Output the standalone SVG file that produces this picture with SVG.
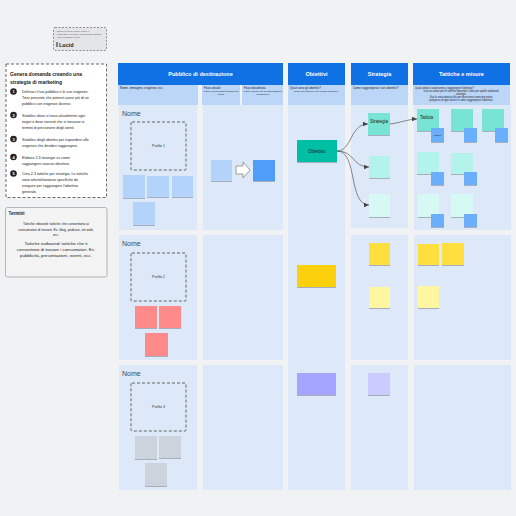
<svg xmlns="http://www.w3.org/2000/svg" width="516" height="516" viewBox="0 0 516 516">
<style>
.hdr{fill:#1071e5}
.hdrt{font-family:"Liberation Sans",Arial,sans-serif;font-size:5.5px;font-weight:bold;fill:#ffffff;text-anchor:middle}
.sub{fill:#bcd6f7}
.subt{font-family:"Liberation Sans",Arial,sans-serif;font-size:3px;fill:#222}
.cell{fill:#dde9f8}
.nome{font-family:"Liberation Sans",Arial,sans-serif;font-size:7px;fill:#4a4a4a}
.prof{fill:none;stroke:#555;stroke-width:0.9;stroke-dasharray:3 2}
.proft{font-family:"Liberation Sans",Arial,sans-serif;font-size:3.5px;fill:#333;text-anchor:middle}
.st{filter:url(#sh)}
.stt{font-family:"Liberation Sans",Arial,sans-serif;font-size:4.5px;fill:#222}
.pt{font-family:"Liberation Sans",Arial,sans-serif;font-size:3.6px;fill:#222}
.ptb{font-family:"Liberation Sans",Arial,sans-serif;font-size:5px;font-weight:bold;fill:#222}
.num{fill:#222}
.numt{font-family:"Liberation Sans",Arial,sans-serif;font-size:4px;font-weight:bold;fill:#fff;text-anchor:middle}
.con{fill:none;stroke:#5a5a5a;stroke-width:0.7;marker-end:url(#ah)}
</style>
<defs>
<filter id="sh" x="-20%" y="-20%" width="140%" height="150%">
<feDropShadow dx="0" dy="1" stdDeviation="0.6" flood-color="#000" flood-opacity="0.25"/>
</filter>
<marker id="ah" markerWidth="6" markerHeight="6" refX="5" refY="3" orient="auto" markerUnits="userSpaceOnUse">
<path d="M0,0.8 L5,3 L0,5.2 Z" fill="#444"/>
</marker>
</defs>
<rect x="0" y="0" width="516" height="516" fill="#f1f2f4"/>

<g id="logo">
<rect x="53.5" y="27.5" width="53" height="23" rx="1.5" fill="#e4e5e8" stroke="#666" stroke-width="0.7" stroke-dasharray="2 1.5"/>
<text class="subt" x="57" y="32" style="font-size:2.4px;fill:#555">Scopri di più su come creare e</text>
<text class="subt" x="57" y="35" style="font-size:2.4px;fill:#555">condividere un piano di marketing efficace</text>
<text class="subt" x="57" y="38" style="font-size:2.4px;fill:#555">con Lucidchart. Inizia</text>
<rect x="56.5" y="42" width="1" height="5" fill="#222"/>
<text x="59" y="47" style="font-family:'Liberation Sans',Arial,sans-serif;font-size:5.5px;font-weight:bold;fill:#222">Lucid</text>
</g>

<g id="istruzioni">
<rect x="6" y="64" width="100.5" height="133.5" fill="#ffffff" stroke="#444" stroke-width="0.8" stroke-dasharray="3 2"/>
<text class="ptb" x="10" y="76">Genera domanda creando una</text>
<text class="ptb" x="10" y="84">strategia di marketing</text>
<circle class="num" cx="13.5" cy="91.5" r="3.3"/><text class="numt" x="13.5" y="93">1</text>
<text class="pt" x="22" y="93">Definisci il tuo pubblico e le sue esigenze.</text>
<text class="pt" x="22" y="99">Tieni presente che potresti avere più di un</text>
<text class="pt" x="22" y="105">pubblico con esigenze diverse.</text>
<circle class="num" cx="13.5" cy="115" r="3.3"/><text class="numt" x="13.5" y="116.5">2</text>
<text class="pt" x="22" y="116.5">Stabilisci dove si trova attualmente ogni</text>
<text class="pt" x="22" y="122.5">target e dove vorresti che si trovasse in</text>
<text class="pt" x="22" y="128.5">termini di percezione degli utenti.</text>
<circle class="num" cx="13.5" cy="139" r="3.3"/><text class="numt" x="13.5" y="140.5">3</text>
<text class="pt" x="22" y="140.5">Stabilisci degli obiettivi per rispondere alle</text>
<text class="pt" x="22" y="146.5">esigenze che desideri raggiungere.</text>
<circle class="num" cx="13.5" cy="157" r="3.3"/><text class="numt" x="13.5" y="158.5">4</text>
<text class="pt" x="22" y="158.5">Elabora 2-3 strategie su come</text>
<text class="pt" x="22" y="164.5">raggiungere ciascun obiettivo.</text>
<circle class="num" cx="13.5" cy="173.5" r="3.3"/><text class="numt" x="13.5" y="175">5</text>
<text class="pt" x="22" y="175">Crea 2-3 tattiche per strategia. Le tattiche</text>
<text class="pt" x="22" y="181">sono attività/iniziative specifiche da</text>
<text class="pt" x="22" y="187">eseguire per raggiungere l'obiettivo</text>
<text class="pt" x="22" y="193">generale.</text>
</g>

<g id="termini">
<rect x="5.5" y="207.5" width="101.5" height="69.5" rx="2" fill="#f4f4f5" stroke="#999" stroke-width="0.7"/>
<text class="pt" x="8.5" y="215" style="font-size:4.5px;font-weight:bold">Termini</text>
<text class="pt" x="56" y="225" text-anchor="middle" style="font-size:3.4px">Tattiche inbound: tattiche che consentono ai</text>
<text class="pt" x="56" y="230.5" text-anchor="middle" style="font-size:3.4px">consumatori di trovarti. Es. blog, podcast, siti web,</text>
<text class="pt" x="56" y="236" text-anchor="middle" style="font-size:3.4px">ecc.</text>
<text class="pt" x="56" y="245" text-anchor="middle" style="font-size:4.4px">Tattiche outbound: tattiche che ti</text>
<text class="pt" x="56" y="251" text-anchor="middle" style="font-size:4.4px">consentono di trovare i consumatori. Es.</text>
<text class="pt" x="56" y="257" text-anchor="middle" style="font-size:4.4px">pubblicità, presentazioni, eventi, ecc.</text>
</g>

<g id="intestazioni">
<rect class="hdr" x="118" y="63" width="165" height="22"/>
<text class="hdrt" x="200.5" y="76">Pubblico di destinazione</text>
<rect class="hdr" x="288" y="63" width="57" height="22"/>
<text class="hdrt" x="316.5" y="76">Obiettivi</text>
<rect class="hdr" x="351" y="63" width="57" height="22"/>
<text class="hdrt" x="379.5" y="76">Strategia</text>
<rect class="hdr" x="413" y="63" width="97" height="22"/>
<text class="hdrt" x="461.5" y="76">Tattiche e misure</text>

<rect class="sub" x="118" y="85" width="80" height="20"/>
<text class="subt" x="120" y="89">Nome, immagine, esigenze, ecc.</text>
<rect class="sub" x="202" y="85" width="38" height="20"/>
<text class="subt" x="204" y="89">Fase attuale</text>
<text class="subt" x="221" y="92" text-anchor="middle" style="font-size:2.4px">(come si comportano/pensano gli</text>
<text class="subt" x="221" y="95" text-anchor="middle" style="font-size:2.4px">utenti)</text>
<rect class="sub" x="242" y="85" width="41" height="20"/>
<text class="subt" x="244" y="89">Fase desiderata</text>
<text class="subt" x="263" y="92" text-anchor="middle" style="font-size:2.4px">(come vorresti che si comportassero/</text>
<text class="subt" x="263" y="95" text-anchor="middle" style="font-size:2.4px">pensassero)</text>
<rect class="sub" x="288" y="85" width="57" height="20"/>
<text class="subt" x="290" y="89">Quali sono gli obiettivi?</text>
<text class="subt" x="316" y="92" text-anchor="middle" style="font-size:2.4px">(Cosa vuoi ottenere con questo pubblico?)</text>
<rect class="sub" x="351" y="85" width="57" height="20"/>
<text class="subt" x="353" y="89">Come raggiungerai i vari obiettivi?</text>
<rect class="sub" x="413" y="85" width="97" height="20"/>
<text class="subt" x="415" y="88.5" style="font-size:2.6px">Quali attività ti aiuteranno a raggiungere l'obiettivo?</text>
<text class="subt" x="461" y="91.5" text-anchor="middle" style="font-size:2.6px">Usa un colore per le tattiche inbound e l'altro per quelle outbound</text>
<text class="subt" x="461" y="94.5" text-anchor="middle" style="font-size:2.6px">strategie.</text>
<text class="subt" x="461" y="97.5" text-anchor="middle" style="font-size:2.6px">Usa le note adesive blu per descrivere come misurerai</text>
<text class="subt" x="461" y="100.5" text-anchor="middle" style="font-size:2.6px">i progressi di ogni tattica e come raggiungerai l'obiettivo.</text>
</g>

<g id="celle">
<rect class="cell" x="119" y="105" width="78" height="125"/>
<rect class="cell" x="203" y="105" width="80" height="125"/>
<rect class="cell" x="119" y="235" width="78" height="125"/>
<rect class="cell" x="203" y="235" width="80" height="125"/>
<rect class="cell" x="119" y="365" width="78" height="125"/>
<rect class="cell" x="203" y="365" width="80" height="125"/>
<rect class="cell" x="288" y="105" width="57" height="385"/>
<rect class="cell" x="351" y="105" width="57" height="123"/>
<rect class="cell" x="351" y="235" width="57" height="125"/>
<rect class="cell" x="351" y="365" width="57" height="125"/>
<rect class="cell" x="414" y="105" width="97" height="125"/>
<rect class="cell" x="414" y="235" width="97" height="125"/>
<rect class="cell" x="414" y="365" width="97" height="125"/>
</g>

<g id="profilo1">
<text class="nome" x="122" y="116">Nome</text>
<rect class="prof" x="131" y="122" width="55" height="48" rx="1"/>
<text class="proft" x="158.5" y="147">Profilo 1</text>
<rect class="st" x="123" y="175" width="22" height="23" fill="#b3d3fb"/>
<rect class="st" x="147" y="176" width="22" height="21" fill="#b3d3fb"/>
<rect class="st" x="172" y="176" width="21" height="21" fill="#b3d3fb"/>
<rect class="st" x="133" y="202" width="22" height="23" fill="#b3d3fb"/>
</g>

<g id="fase1">
<rect class="st" x="211" y="160" width="21" height="21" fill="#b3d3fb"/>
<path d="M236,166 L243,166 L243,162 L250,170 L243,178 L243,174 L236,174 Z" fill="#ffffff" stroke="#666" stroke-width="0.6"/>
<rect class="st" x="253" y="160" width="22" height="21" fill="#4f9cf9"/>
</g>

<g id="profilo2">
<text class="nome" x="122" y="246">Nome</text>
<rect class="prof" x="131" y="253" width="55" height="48" rx="1"/>
<text class="proft" x="158.5" y="278">Profilo 2</text>
<rect class="st" x="135" y="306" width="22" height="22" fill="#ff8a8a"/>
<rect class="st" x="159" y="306" width="22" height="22" fill="#ff8a8a"/>
<rect class="st" x="145" y="333" width="23" height="23" fill="#ff8a8a"/>
</g>

<g id="profilo3">
<text class="nome" x="122" y="376">Nome</text>
<rect class="prof" x="131" y="383" width="55" height="48" rx="1"/>
<text class="proft" x="158.5" y="408">Profilo 3</text>
<rect class="st" x="135" y="436" width="22" height="23" fill="#cdd3dc"/>
<rect class="st" x="159" y="436" width="22" height="22" fill="#cdd3dc"/>
<rect class="st" x="145" y="463" width="22" height="23" fill="#cdd3dc"/>
</g>

<g id="obiettivo1">
<rect class="st" x="297" y="140" width="40" height="22" fill="#00bfa5"/>
<text class="stt" x="317" y="152.5" text-anchor="middle">Obiettivo</text>
</g>
<g id="obiettivo2"><rect class="st" x="297" y="265" width="39" height="22" fill="#fdd00f"/></g>
<g id="obiettivo3"><rect class="st" x="297" y="373" width="39" height="22" fill="#a5a5ff"/></g>

<g id="strategia1">
<rect class="st" x="368" y="113" width="22" height="22" fill="#77e4d4"/>
<text class="stt" x="370" y="123">Strategia</text>
</g>
<g id="strategia1b"><rect class="st" x="369" y="156" width="21" height="22" fill="#b4f3eb"/></g>
<g id="strategia1c"><rect class="st" x="369" y="194" width="21" height="23" fill="#d6f9f4"/></g>
<g id="strategia2"><rect class="st" x="369" y="243" width="21" height="22" fill="#ffdf3c"/></g>
<g id="strategia2b"><rect class="st" x="369" y="287" width="21" height="21" fill="#fff6a1"/></g>
<g id="strategia3"><rect class="st" x="368" y="373" width="22" height="22" fill="#cccbff"/></g>

<g id="tattiche1">
<rect class="st" x="417" y="109" width="22" height="22" fill="#77e4d4"/>
<text class="stt" x="420" y="119">Tattica</text>
<rect class="st" x="431" y="128" width="13" height="14" fill="#6aaefc"/>
<text class="subt" x="437.5" y="136" text-anchor="middle" style="font-size:2.4px">Misura</text>
<rect class="st" x="451" y="109" width="22" height="22" fill="#77e4d4"/>
<rect class="st" x="464" y="128" width="13" height="14" fill="#6aaefc"/>
<rect class="st" x="482" y="109" width="22" height="22" fill="#77e4d4"/>
<rect class="st" x="495" y="128" width="13" height="14" fill="#6aaefc"/>
<rect class="st" x="417" y="152" width="22" height="22" fill="#b4f3eb"/>
<rect class="st" x="431" y="172" width="13" height="13" fill="#6aaefc"/>
<rect class="st" x="451" y="153" width="22" height="21" fill="#b4f3eb"/>
<rect class="st" x="464" y="172" width="13" height="13" fill="#6aaefc"/>
<rect class="st" x="418" y="194" width="21" height="23" fill="#d6f9f4"/>
<rect class="st" x="431" y="214" width="13" height="13" fill="#6aaefc"/>
<rect class="st" x="451" y="194" width="22" height="23" fill="#d6f9f4"/>
<rect class="st" x="464" y="214" width="13" height="13" fill="#6aaefc"/>
</g>
<g id="tattiche2">
<rect class="st" x="418" y="244" width="21" height="21" fill="#ffdf3c"/>
<rect class="st" x="442" y="243" width="22" height="22" fill="#ffdf3c"/>
<rect class="st" x="418" y="286" width="21" height="22" fill="#fff6a1"/>
</g>

<g id="connettori">
<path class="con" d="M337,151 C352,151 350,124 368,124"/>
<path class="con" d="M337,151 C355,151 352,167 369,167"/>
<path class="con" d="M337,151 C358,151 348,205 369,205"/>
<path class="con" d="M390,124 C400,123 408,119 417,119"/>
</g>
</svg>
